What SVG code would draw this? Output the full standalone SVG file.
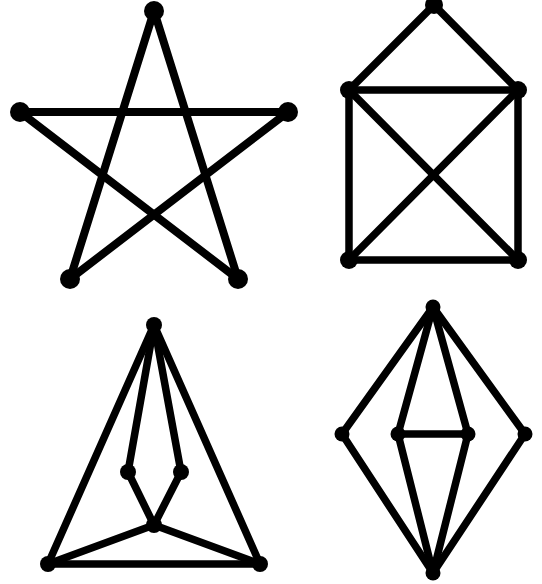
<svg xmlns="http://www.w3.org/2000/svg" width="542" height="584" viewBox="0 0 542 584">
<style>
.e line{stroke:#000;stroke-width:7.5;stroke-linecap:round}
.e .s{stroke-width:8}
.n{fill:#000}
</style>
<rect width="542" height="584" fill="#fff"/>
<g id="connectors" class="e">
<!-- star -->
<line class="s" x1="154" y1="11" x2="70" y2="279"/>
<line class="s" x1="154" y1="11" x2="238" y2="279"/>
<line class="s" x1="20" y1="112" x2="288" y2="112"/>
<line class="s" x1="20" y1="112" x2="238" y2="279"/>
<line class="s" x1="288" y1="112" x2="70" y2="279"/>
<!-- house -->
<line x1="434" y1="5" x2="349" y2="90"/>
<line x1="434" y1="5" x2="518" y2="90"/>
<line x1="349" y1="90" x2="518" y2="90"/>
<line x1="349" y1="90" x2="349" y2="260"/>
<line x1="518" y1="90" x2="518" y2="260"/>
<line x1="349" y1="260" x2="518" y2="260"/>
<line x1="349" y1="90" x2="518" y2="260"/>
<line x1="518" y1="90" x2="349" y2="260"/>
<!-- triangle graph -->
<line x1="154" y1="325" x2="48" y2="564"/>
<line x1="154" y1="325" x2="260" y2="564"/>
<line x1="154" y1="325" x2="128" y2="472"/>
<line x1="154" y1="325" x2="181" y2="472"/>
<line x1="128" y1="472" x2="154" y2="525"/>
<line x1="181" y1="472" x2="154" y2="525"/>
<line x1="154" y1="525" x2="48" y2="564"/>
<line x1="154" y1="525" x2="260" y2="564"/>
<line x1="48" y1="564" x2="260" y2="564"/>
<!-- diamond graph -->
<line x1="433" y1="307" x2="342" y2="434"/>
<line x1="433" y1="307" x2="398" y2="434"/>
<line x1="433" y1="307" x2="468" y2="434"/>
<line x1="433" y1="307" x2="525" y2="434"/>
<line x1="342" y1="434" x2="433" y2="573"/>
<line x1="398" y1="434" x2="433" y2="573"/>
<line x1="468" y1="434" x2="433" y2="573"/>
<line x1="525" y1="434" x2="433" y2="573"/>
<line x1="398" y1="434" x2="468" y2="434"/>
</g>
<g id="star-top"><circle class="n" cx="154" cy="11" r="10"/></g>
<g id="star-left"><circle class="n" cx="20" cy="112" r="10"/></g>
<g id="star-right"><circle class="n" cx="288" cy="112" r="10"/></g>
<g id="star-bl"><circle class="n" cx="70" cy="279" r="10"/></g>
<g id="star-br"><circle class="n" cx="238" cy="279" r="10"/></g>
<g id="house-top"><circle class="n" cx="434" cy="5" r="9"/></g>
<g id="house-ml"><circle class="n" cx="349" cy="90" r="9"/></g>
<g id="house-mr"><circle class="n" cx="518" cy="90" r="9"/></g>
<g id="house-bl"><circle class="n" cx="349" cy="260" r="9"/></g>
<g id="house-br"><circle class="n" cx="518" cy="260" r="9"/></g>
<g id="tri-top"><circle class="n" cx="154" cy="325" r="8"/></g>
<g id="tri-il"><circle class="n" cx="128" cy="472" r="8"/></g>
<g id="tri-ir"><circle class="n" cx="181" cy="472" r="8"/></g>
<g id="tri-c"><circle class="n" cx="154" cy="525" r="8"/></g>
<g id="tri-bl"><circle class="n" cx="48" cy="564" r="8"/></g>
<g id="tri-br"><circle class="n" cx="260" cy="564" r="8"/></g>
<g id="dia-top"><circle class="n" cx="433" cy="307" r="7.5"/></g>
<g id="dia-l"><circle class="n" cx="342" cy="434" r="7.5"/></g>
<g id="dia-il"><circle class="n" cx="398" cy="434" r="7.5"/></g>
<g id="dia-ir"><circle class="n" cx="468" cy="434" r="7.5"/></g>
<g id="dia-r"><circle class="n" cx="525" cy="434" r="7.5"/></g>
<g id="dia-bottom"><circle class="n" cx="433" cy="573" r="7.5"/></g>
</svg>
